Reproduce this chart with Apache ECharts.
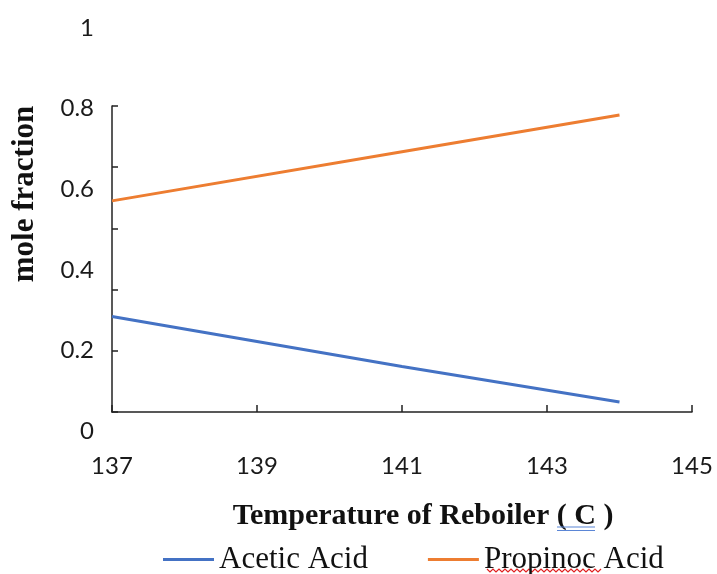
<!DOCTYPE html>
<html>
<head>
<meta charset="utf-8">
<script src="https://cdn.jsdelivr.net/npm/echarts@6/dist/echarts.min.js"></script>
<style>
html,body{margin:0;padding:0;background:#fff;}
#c{width:717px;height:574px;}
</style>
</head>
<body>
<div id="c"></div>
<script>
var temperatures = [137, 141, 144];
var aceticAcid = [0.284, 0.160, 0.072];
var propinocAcid = [0.571, 0.693, 0.784];
var xTicks = [137, 139, 141, 143, 145];
var yTicks = [0, 0.2, 0.4, 0.6, 0.8, 1];
var seriesNames = ['Acetic Acid', 'Propinoc Acid'];

function pairs(xs, ys) { return xs.map(function (x, i) { return [x, ys[i]]; }); }

var chart = echarts.init(document.getElementById('c'));
chart.setOption({
  backgroundColor: '#fff',
  animation: false,
  grid: [
    { left: 112, right: 25, top: 28, bottom: 143 },
    { left: 112, right: 25, top: 106, bottom: 162 }
  ],
  xAxis: [
    { gridIndex: 0, type: 'value', min: xTicks[0], max: xTicks[xTicks.length - 1], interval: 2,
      axisLine: { show: false }, axisTick: { show: false }, axisLabel: { show: false }, splitLine: { show: false } },
    { gridIndex: 1, type: 'value', min: xTicks[0], max: xTicks[xTicks.length - 1], interval: 2,
      axisLine: { show: true, lineStyle: { color: '#222', width: 1.5 } },
      axisTick: { show: true, inside: true, length: 7, lineStyle: { color: '#222', width: 1.5 } },
      axisLabel: { show: true, margin: 42, fontFamily: 'Lato', fontSize: 24, color: '#1a1a1a' },
      splitLine: { show: false } }
  ],
  yAxis: [
    { gridIndex: 0, type: 'value', min: yTicks[0], max: yTicks[yTicks.length - 1], interval: 0.2,
      axisLine: { show: false }, axisTick: { show: false }, splitLine: { show: false },
      axisLabel: { show: true, margin: 18, fontFamily: 'Lato', fontSize: 24, color: '#1a1a1a' } },
    { gridIndex: 1, type: 'value', min: 0, max: 5, interval: 1,
      axisLine: { show: true, lineStyle: { color: '#222', width: 1.5 } },
      axisTick: { show: true, inside: true, length: 6, lineStyle: { color: '#222', width: 1.5 } },
      axisLabel: { show: false }, splitLine: { show: false } }
  ],
  legend: {
    left: 158, top: 539,
    icon: 'rect',
    itemWidth: 51, itemHeight: 3, itemGap: 60,
    textStyle: { fontFamily: 'Liberation Serif', fontSize: 31, color: '#111' },
    data: seriesNames
  },
  series: [
    { name: seriesNames[0], type: 'line', xAxisIndex: 0, yAxisIndex: 0, symbol: 'none',
      lineStyle: { color: '#4472C4', width: 3 }, itemStyle: { color: '#4472C4' },
      data: pairs(temperatures, aceticAcid) },
    { name: seriesNames[1], type: 'line', xAxisIndex: 0, yAxisIndex: 0, symbol: 'none',
      lineStyle: { color: '#ED7D31', width: 3 }, itemStyle: { color: '#ED7D31' },
      data: pairs(temperatures, propinocAcid) }
  ],
  graphic: [
    { type: 'text', x: 25, y: 194, rotation: Math.PI / 2,
      style: { text: 'mole fraction', fontFamily: 'Liberation Serif', fontWeight: 'bold', fontSize: 31,
        fill: '#111', align: 'center', verticalAlign: 'middle' } },
    { type: 'text', x: 423, y: 516,
      style: { text: 'Temperature of Reboiler ( C )', fontFamily: 'Liberation Serif', fontWeight: 'bold', fontSize: 30,
        fill: '#111', align: 'center', verticalAlign: 'middle' } },
    { type: 'line', shape: { x1: 557, y1: 527, x2: 595, y2: 527 }, style: { stroke: '#5B86D6', lineWidth: 1.2 } },
    { type: 'line', shape: { x1: 557, y1: 530.5, x2: 595, y2: 530.5 }, style: { stroke: '#5B86D6', lineWidth: 1.2 } },
    { type: 'polyline', shape: { points: (function(){ var p=[]; for (var x=487; x<=602; x+=3) p.push([x, (((x-487)/3)%2===0)?569:572]); return p; })() },
      style: { stroke: '#E02020', lineWidth: 1.2, fill: null } }
  ]
});
</script>
</body>
</html>
